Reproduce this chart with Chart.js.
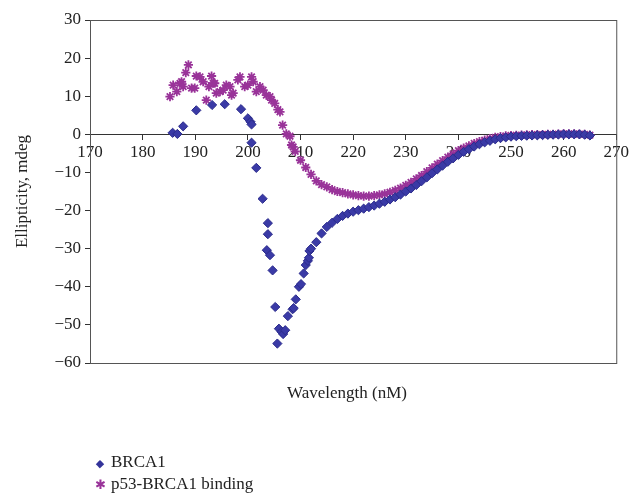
<!DOCTYPE html>
<html>
<head>
<meta charset="utf-8">
<script src="https://cdn.jsdelivr.net/npm/chart.js@4/dist/chart.umd.min.js"></script>
<style>
  html, body { margin: 0; padding: 0; background: #fff; }
  #wrap { position: relative; width: 632px; height: 494px; font-family: "Liberation Serif", "DejaVu Serif", serif; color: #222; }
  canvas { position: absolute; left: 0; top: 0; }
  #xtitle { position: absolute; left: 240px; width: 214px; text-align: center; top: 383px; font-size: 17px; }
  .leg { position: absolute; left: 89px; font-size: 17px; line-height: 20px; }
  .leg span.m { display: inline-block; width: 22px; text-align: center; }
</style>
</head>
<body>
<div id="wrap">
  <canvas id="c" width="632" height="494"></canvas>
  <div id="xtitle">Wavelength (nM)</div>
  <div class="leg" style="top:452px"><span class="m" style="color:#33339a;font-size:11px">◆</span>BRCA1</div>
  <div class="leg" style="top:474px"><span class="m" style="color:#993399;font-size:13px">✱</span>p53-BRCA1 binding</div>
</div>
<script>
// Wavelength (nM) / ellipticity (mdeg)
const brcaX = [185.7,186.6,187.7,190.2,193.2,195.6,198.7,200.0,200.5,200.7,200.7,201.6,202.8,203.8,203.8,203.6,204.2,204.7,205.2,205.6,205.9,206.4,206.7,207.1,207.6,208.5,208.7,209.1,209.7,210.1,210.6,211.0,211.4,211.6,211.7,
  212,213,214,215,216,217,218,219,220,221,222,223,224,225,226,227,228,229,230,231,232,233,234,235,236,237,238,239,240,241,242,243,244,245,246,247,248,249,250,251,252,253,254,255,256,257,258,259,260,261,262,263,264,265];
const brcaY = [0.4,0.1,2.1,6.3,7.7,7.9,6.6,4.2,3.3,2.6,-2.2,-8.8,-16.9,-23.3,-26.2,-30.4,-31.7,-35.7,-45.3,-54.9,-51.0,-51.8,-52.4,-51.4,-47.7,-45.9,-45.6,-43.3,-40.0,-39.3,-36.5,-34.3,-33.2,-32.4,-30.6,
  -30.0,-28.3,-26.0,-24.3,-23.2,-22.2,-21.4,-20.8,-20.3,-19.9,-19.5,-19.1,-18.7,-18.2,-17.7,-17.1,-16.5,-15.8,-15.0,-14.2,-13.3,-12.3,-11.3,-10.2,-9.2,-8.2,-7.2,-6.3,-5.4,-4.6,-3.9,-3.2,-2.6,-2.1,-1.7,-1.3,-1.0,-0.8,-0.6,-0.5,-0.4,-0.35,-0.3,-0.25,-0.2,-0.15,-0.1,-0.05,0.0,0.0,0.0,0.0,-0.1,-0.3];
const p53X = [185.2,185.8,186.5,187.1,187.4,187.7,188.2,188.7,189.3,189.9,190.2,190.9,191.5,192.1,192.6,193.1,193.4,193.7,194.0,194.7,195.3,195.9,196.6,196.9,197.2,198.1,198.5,199.4,200.0,200.7,201.0,201.6,202.3,202.9,203.5,204.2,204.5,205.1,205.7,206.1,206.6,207.3,208.0,208.3,208.6,
  209,210,211,212,213,214,215,216,217,218,219,220,221,222,223,224,225,226,227,228,229,230,231,232,233,234,235,236,237,238,239,240,241,242,243,244,245,246,247,248,249,250,251,252,253,254,255,256,257,258,259,260,261,262,263,264,265];
const p53Y = [9.9,12.9,11.2,13.4,13.8,12.5,16.2,18.2,12.1,12.1,15.3,15.1,13.8,9.0,12.5,15.3,13.4,13.4,10.8,11.2,11.6,12.9,12.5,10.3,10.8,14.3,15.1,12.5,12.9,15.1,13.8,11.2,12.5,11.6,10.3,9.9,9.0,8.1,6.5,5.9,2.4,0.1,-0.5,-2.8,-3.3,
  -4.5,-6.8,-8.7,-10.5,-12.2,-13.2,-13.8,-14.5,-15.0,-15.3,-15.6,-15.9,-16.1,-16.2,-16.2,-16.1,-15.9,-15.6,-15.2,-14.7,-14.1,-13.4,-12.6,-11.7,-10.8,-9.8,-8.8,-7.8,-6.9,-6.0,-5.1,-4.3,-3.6,-3.0,-2.4,-1.9,-1.5,-1.1,-0.8,-0.6,-0.4,-0.3,-0.25,-0.2,-0.15,-0.1,-0.1,-0.05,0.0,0.0,0.05,0.1,0.1,0.1,0.05,0.0,-0.2];
const xTicks = [170,180,190,200,210,220,230,240,250,260,270];
const yTicks = [30,20,10,0,-10,-20,-30,-40,-50,-60];
const seriesNames = ["BRCA1", "p53-BRCA1 binding"];

const toPts = (xs, ys) => xs.map((x, i) => ({x: x, y: ys[i]}));
const font = { family: "'Liberation Serif', 'DejaVu Serif', serif", size: 17 };

const boxPlugin = {
  id: 'box',
  beforeDatasetsDraw(chart) {
    const a = chart.chartArea, ctx = chart.ctx;
    ctx.save();
    ctx.strokeStyle = '#555';
    ctx.lineWidth = 1;
    ctx.strokeRect(a.left + 0.5, a.top + 0.5, a.right - a.left, a.bottom - a.top);
    ctx.restore();
  }
};

new Chart(document.getElementById('c'), {
  type: 'scatter',
  data: {
    datasets: [
      { label: seriesNames[0], data: toPts(brcaX, brcaY), pointStyle: 'rectRot', pointRadius: 4.6, pointBackgroundColor: '#3a3aa6', pointBorderColor: '#2b2b8c', pointBorderWidth: 1, showLine: false },
      { label: seriesNames[1], data: toPts(p53X, p53Y), pointStyle: 'star', pointRadius: 4.6, pointBorderColor: '#993399', pointBackgroundColor: '#993399', pointBorderWidth: 1.8, showLine: false }
    ]
  },
  options: {
    responsive: false,
    animation: false,
    events: [],
    layout: { padding: { left: 0, top: 20, right: 15, bottom: 131 } },
    plugins: { legend: { display: false }, tooltip: { enabled: false } },
    scales: {
      x: {
        type: 'linear', position: { y: 0 }, min: 170, max: 270,
        afterBuildTicks: s => { s.ticks = xTicks.map(v => ({ value: v })); },
        ticks: { font: font, color: '#222', padding: 3, maxRotation: 0, autoSkip: false },
        grid: { drawOnChartArea: false, drawTicks: true, tickLength: 5, color: '#333' },
        border: { display: true, color: '#333', width: 1 }
      },
      y: {
        type: 'linear', position: 'left', min: -60, max: 30,
        afterBuildTicks: s => { s.ticks = yTicks.map(v => ({ value: v })); },
        afterFit: s => { s.width = 90; },
        ticks: { font: font, color: '#222', padding: 4, callback: v => String(v).replace('-', '\u2212') },
        grid: { drawOnChartArea: false, drawTicks: true, tickLength: 5, color: '#333' },
        border: { display: true, color: '#333', width: 1 },
        title: { display: true, text: 'Ellipticity, mdeg', font: font, color: '#222', padding: { top: 12, bottom: 0 } }
      }
    }
  },
  plugins: [boxPlugin]
});
</script>
</body>
</html>
